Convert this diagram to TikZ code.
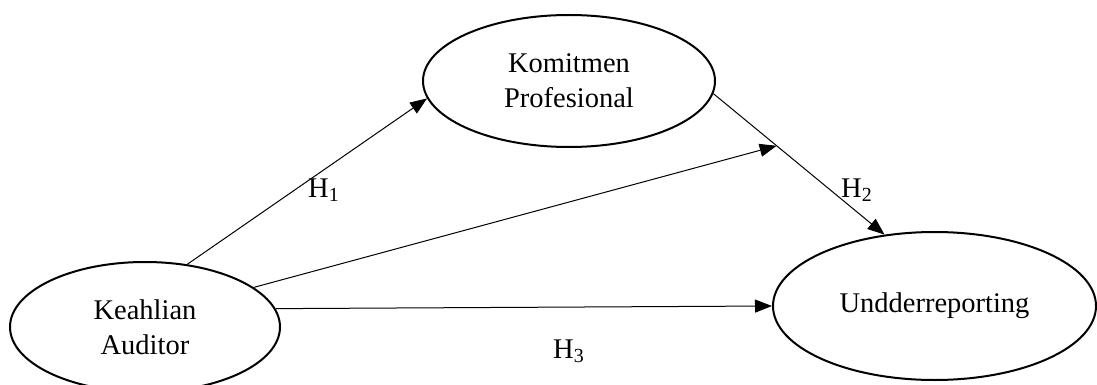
\documentclass[tikz,border=0pt]{standalone}
\usepackage{fontspec}
\setmainfont{Liberation Serif}
\usetikzlibrary{shapes.geometric,arrows.meta,calc}
\tikzset{
  construct/.style={ellipse, draw, line width=2pt, inner sep=0pt, align=center,
    font=\fontsize{28.5}{35}\selectfont},
  link/.style={line width=1pt, -{Triangle[length=17pt,width=13pt]}},
  hyp/.style={anchor=base west, inner sep=0pt, font=\fontsize{28.5}{35}\selectfont}
}
\begin{document}
\begin{tikzpicture}[x=1pt,y=-1pt]
\useasboundingbox (0,0) rectangle (1097,385);
\node[construct, minimum width=292, minimum height=132] (kp) at (569,81) {Komitmen\\Profesional};
\node[construct, minimum width=270, minimum height=130] (ka) at (145,327) {Keahlian\\Auditor};
\node[construct, minimum width=323, minimum height=148] (un) at (934.5,306) {Undderreporting};
\coordinate (mid) at ($(kp.-5)!0.37!(un.125)$);
\draw[link] (ka.56) -- (kp.187);
\draw[link] (kp.-5) -- (un.125);
\draw[link] (ka.20) -- (mid);
\draw[link] (ka.8) -- (un.180);
\node[hyp] (h1) at (308,197) {H\textsubscript{1}};
\node[hyp] (h2) at (841,197) {H\textsubscript{2}};
\node[hyp] (h3) at (553,358) {H\textsubscript{3}};
\end{tikzpicture}
\end{document}
